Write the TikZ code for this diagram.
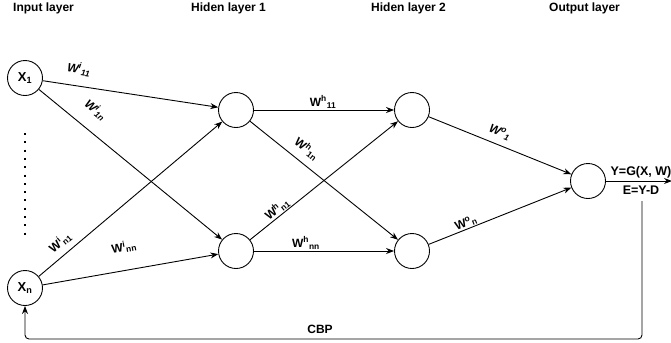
\documentclass[tikz,border=0pt]{standalone}
\usepackage{fontspec}
\setmainfont{Liberation Sans}
\usetikzlibrary{arrows.meta}
\begin{document}
\begin{tikzpicture}[x=1bp,y=-1bp,
  every node/.style={font=\fontsize{12bp}{14bp}\selectfont\bfseries},
  neuron/.style={draw, circle, minimum size=35bp, inner sep=0pt, line width=0.9bp,
    font=\fontsize{13bp}{15bp}\selectfont\bfseries},
  conn/.style={line width=0.9bp, -{Stealth[length=8bp,width=6bp]}},
  wlab/.style={inner sep=0pt, font=\fontsize{12bp}{14bp}\selectfont\bfseries},
  wlabit/.style={wlab, font=\fontsize{12bp}{14bp}\selectfont\bfseries\itshape},
  title/.style={anchor=west, inner sep=0pt}]
\useasboundingbox (0,0) rectangle (671,342);
% titles
\node[title] (t1) at (13,8) {Input layer};
\node[title] (t2) at (191,8) {Hiden layer 1};
\node[title] (t3) at (371,8) {Hiden layer 2};
\node[title] (t4) at (549,8) {Output layer};
% neurons
\node[neuron] (x1) at (25,78) {X\textsubscript{1}};
\node[neuron] (xn) at (25,288) {X\textsubscript{n}};
\node[neuron] (h1a) at (236,110) {};
\node[neuron] (h1b) at (236,251) {};
\node[neuron] (h2a) at (412,110) {};
\node[neuron] (h2b) at (412,251) {};
\node[neuron] (out) at (588,181) {};
% dots
\coordinate (d1) at (25,133);
\coordinate (d2) at (25,235);
\draw[line width=2bp, dash pattern=on 2bp off 6.3bp] (d1) -- (d2);
% connections
\draw[conn] (x1) -- (h1a);
\draw[conn] (x1) -- (h1b);
\draw[conn] (xn) -- (h1a);
\draw[conn] (xn) -- (h1b);
\draw[conn] (h1a) -- (h2a);
\draw[conn] (h1a) -- (h2b);
\draw[conn] (h1b) -- (h2a);
\draw[conn] (h1b) -- (h2b);
\draw[conn] (h2a) -- (out);
\draw[conn] (h2b) -- (out);
% output
\coordinate (yend) at (672,181);
\draw[conn] (out) -- (yend);
\node[inner sep=0pt, font=\fontsize{12.5bp}{14bp}\selectfont\bfseries] (ylab) at (641,172) {Y=G(X, W)};
\node[inner sep=0pt, font=\fontsize{12.5bp}{14bp}\selectfont\bfseries] (elab) at (641,190) {E=Y-D};
% feedback
\coordinate (fb) at (642,201);
\coordinate (fbl) at (25,339);
\draw[conn, rounded corners=4bp] (fb) |- (fbl) -- (xn.south);
\node[inner sep=0pt] (cbp) at (320,329) {CBP};
% weight labels
\node[wlabit, rotate=-8.6] (wi11) at (79,69) {W\textsuperscript{i}\textsubscript{11}};
\node[wlabit, rotate=-39.4] (wi1n) at (96,110) {W\textsuperscript{i}\textsubscript{1n}};
\node[wlab, rotate=40.2] (win1) at (60,242) {W\textsuperscript{i}\textsubscript{n1}};
\node[wlab, rotate=9.9] (winn) at (124,247) {W\textsuperscript{i}\textsubscript{nn}};
\node[wlab] (wh11) at (323,102) {W\textsuperscript{h}\textsubscript{11}};
\node[wlab, rotate=-38.7] (wh1n) at (307,149) {W\textsuperscript{h}\textsubscript{1n}};
\node[wlab, rotate=38.7] (whn1) at (277,209) {W\textsuperscript{h}\textsubscript{n1}};
\node[wlab] (whnn) at (306,243) {W\textsuperscript{h}\textsubscript{nn}};
\node[wlabit, rotate=-22] (wo1) at (500,132) {W\textsuperscript{o}\textsubscript{1}};
\node[wlab, rotate=21.7] (won) at (466,223) {W\textsuperscript{o}\textsubscript{n}};
\end{tikzpicture}
\end{document}
